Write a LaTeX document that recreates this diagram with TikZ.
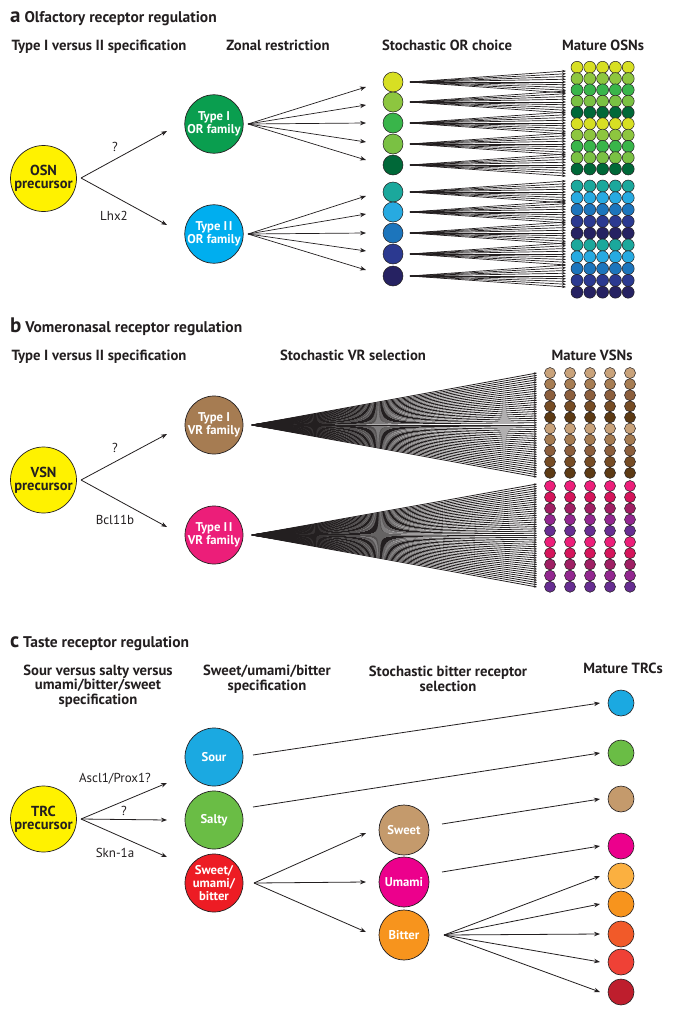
\documentclass[tikz,border=0pt]{standalone}
\usepackage{fontspec}
\setmainfont{PT Sans}
\usetikzlibrary{arrows.meta}
\definecolor{cyel}{HTML}{FFF200}
\definecolor{orI}{HTML}{0A9E4F}
\definecolor{orII}{HTML}{00AEEF}
\definecolor{g1}{HTML}{D7DF23}
\definecolor{g2}{HTML}{8DC63F}
\definecolor{g3}{HTML}{39B54A}
\definecolor{g4}{HTML}{7AC143}
\definecolor{g5}{HTML}{006838}
\definecolor{b1}{HTML}{1BA89C}
\definecolor{b2}{HTML}{27AAE1}
\definecolor{b3}{HTML}{1C75BC}
\definecolor{b4}{HTML}{2B3990}
\definecolor{b5}{HTML}{262262}
\definecolor{vrI}{HTML}{A67C52}
\definecolor{vrII}{HTML}{EC1E79}
\definecolor{br1}{HTML}{C8A27A}
\definecolor{br2}{HTML}{A67C52}
\definecolor{br3}{HTML}{8B5E3C}
\definecolor{br4}{HTML}{754C24}
\definecolor{br5}{HTML}{5C3A14}
\definecolor{pk1}{HTML}{EC1E79}
\definecolor{pk2}{HTML}{D4145A}
\definecolor{pk3}{HTML}{9E1F63}
\definecolor{pk4}{HTML}{92278F}
\definecolor{pk5}{HTML}{662D91}
\definecolor{tsour}{HTML}{1BA9E1}
\definecolor{tsalty}{HTML}{6ABD45}
\definecolor{tsub}{HTML}{ED1C24}
\definecolor{tsweet}{HTML}{C49A6C}
\definecolor{tumami}{HTML}{EC008C}
\definecolor{tbitter}{HTML}{F7941D}
\definecolor{m5}{HTML}{FBB040}
\definecolor{m7}{HTML}{F15A29}
\definecolor{m8}{HTML}{EF4136}
\definecolor{m9}{HTML}{BE1E2D}
\definecolor{ink}{HTML}{231F20}
\begin{document}
\begin{tikzpicture}[x=1pt,y=-1pt,
  every node/.style={text=ink},
  title/.style={anchor=base west,inner sep=0pt,font=\bfseries\fontsize{15.5}{18}\selectfont},
  head/.style={inner sep=0pt,font=\bfseries\fontsize{14.7}{14.5}\selectfont,align=center},
  lab/.style={inner sep=0pt,font=\fontsize{13}{14}\selectfont},
  prec/.style={circle,draw=ink,line width=0.7pt,fill=cyel,minimum size=66pt,inner sep=0pt,align=center,font=\bfseries\fontsize{14.5}{15}\selectfont},
  fam/.style={circle,draw=ink,line width=0.7pt,minimum size=58pt,inner sep=0pt,align=center,text=white,font=\bfseries\fontsize{12.7}{14}\selectfont},
  dot/.style={circle,draw=ink,line width=0.5pt,inner sep=0pt},
  arr/.style={draw=ink,line width=0.8pt,-{Stealth[length=6pt,width=4.5pt]}},
  farr/.style={draw=ink,line width=0.7pt,-{Stealth[length=4pt,width=2.8pt]}},
  varr/.style={draw=ink,line width=0.8pt,-{Stealth[length=3pt,width=2.3pt]}},
]
\useasboundingbox[fill=white] (0,0) rectangle (673,1015);

% ---------------- Panel a ----------------
\node[title] (ta) at (10,22) {{\fontsize{21}{21}\selectfont a} Olfactory receptor regulation};
\node[head,anchor=base] (ha1) at (99,50) {Type I versus II specification};
\node[head,anchor=base] (ha2) at (278,50) {Zonal restriction};
\node[head,anchor=base] (ha3) at (447,50) {Stochastic OR choice};
\node[head,anchor=base] (ha4) at (603,50) {Mature OSNs};

\node[prec] (osn) at (43.5,178.5) {OSN\\[-2pt]precursor};
\node[fam,fill=orI] (orI) at (214,124) {Type I\\[-1pt]OR family};
\node[fam,fill=orII] (orII) at (214,234) {Type I\kern1.5pt I\\[-1pt]OR family};
\coordinate (osnA) at (81,178);
\coordinate (orIin) at (167,131);
\coordinate (orIIin) at (167,225);
\draw[arr] (osnA) -- (orIin);
\draw[arr] (osnA) -- (orIIin);
\node[lab] (qa) at (115,147) {?};
\node[lab] (lhx) at (114,216) {Lhx2};

\coordinate (orIA) at (248,124);
\coordinate (orIIA) at (248,234);
\foreach \y [count=\i] in {87,105,123,142,160}{
  \coordinate (zI\i) at (366,\y);
  \draw[arr,line width=0.7pt] (orIA) -- (zI\i);
}
\foreach \y [count=\i] in {196,214,233,251,270}{
  \coordinate (zII\i) at (366,\y);
  \draw[arr,line width=0.7pt] (orIIA) -- (zII\i);
}

\foreach \y/\c [count=\i] in {82/g1,102/g2,123/g3,144/g4,165/g5,192/b1,212/b2,233/b3,254/b4,276/b5}{
  \node[dot,fill=\c,minimum size=20pt] (s\i) at (393,\y) {};
  \coordinate (sa\i) at (410,\y);
  \foreach \k in {0,...,8}{
    \coordinate (st\i-\k) at (566,{\y-11+2.75*\k});
    \draw[farr] (sa\i) -- (st\i-\k);
  }
}
\foreach \c [count=\j from 0] in {g1,g2,g3,g4,g5,g1,g2,g3,g4,g5}{
  \foreach \k in {0,...,4}{
    \node[dot,fill=\c,minimum size=12pt] (og\j-\k) at ({577+12.8*\k},{67.3+11.3*\j}) {};
  }
}
\foreach \c [count=\j from 0] in {b1,b2,b3,b4,b5,b1,b2,b3,b4,b5}{
  \foreach \k in {0,...,4}{
    \node[dot,fill=\c,minimum size=12pt] (ob\j-\k) at ({577+12.8*\k},{186+11.8*\j}) {};
  }
}

% ---------------- Panel b ----------------
\node[title] (tb) at (10,332) {{\fontsize{21}{21}\selectfont b} Vomeronasal receptor regulation};
\node[head,anchor=base] (hb1) at (99,360) {Type I versus II specification};
\node[head,anchor=base] (hb2) at (353,360) {Stochastic VR selection};
\node[head,anchor=base] (hb3) at (592,360) {Mature VSNs};

\node[prec] (vsn) at (43.5,480) {VSN\\[-2pt]precursor};
\node[fam,fill=vrI] (vrI) at (214,425) {Type I\\[-1pt]VR family};
\node[fam,fill=vrII] (vrII) at (214,535) {Type I\kern1.5pt I\\[-1pt]VR family};
\coordinate (vsnA) at (81,480);
\coordinate (vrIin) at (167,434);
\coordinate (vrIIin) at (167,527);
\draw[arr] (vsnA) -- (vrIin);
\draw[arr] (vsnA) -- (vrIIin);
\node[lab] (qb) at (115,448) {?};
\node[lab] (bcl) at (115,520) {Bcl11b};

\coordinate (vaI) at (252,425);
\coordinate (vaII) at (252,535);
\foreach \k in {0,...,46}{
  \coordinate (vtI-\k) at (537,{373+104*\k/46});
  \draw[varr] (vaI) -- (vtI-\k);
  \coordinate (vtII-\k) at (537,{484+103*\k/46});
  \draw[varr] (vaII) -- (vtII-\k);
}
\foreach \c [count=\j from 0] in {br1,br2,br3,br4,br5,br1,br2,br3,br4,br5}{
  \foreach \k in {0,...,4}{
    \node[dot,fill=\c,minimum size=11pt] (vb\j-\k) at ({550+20*\k},{373+11.1*\j}) {};
  }
}
\foreach \c [count=\j from 0] in {pk1,pk2,pk3,pk4,pk5,pk1,pk2,pk3,pk4,pk5}{
  \foreach \k in {0,...,4}{
    \node[dot,fill=\c,minimum size=11pt] (vp\j-\k) at ({550+20*\k},{486+11.2*\j}) {};
  }
}

% ---------------- Panel c ----------------
\node[title] (tc) at (10,647) {{\fontsize{21}{21}\selectfont c} Taste receptor regulation};
\node[head] (hc1) at (98,686) {Sour versus salty versus\\umami/bitter/sweet\\specification};
\node[head] (hc2) at (267,679) {Sweet/umami/bitter\\specification};
\node[head] (hc3) at (448,679) {Stochastic bitter receptor\\selection};
\node[head,anchor=base] (hc4) at (623,673) {Mature TRCs};

\node[prec] (trc) at (43.5,819) {TRC\\[-2pt]precursor};
\node[fam,fill=tsour] (sour) at (214,757) {Sour};
\node[fam,fill=tsalty] (salty) at (214,820) {Salty};
\node[fam,fill=tsub] (sub) at (214,883) {Sweet/\\[-1pt]umami/\\[-1pt]bitter};
\coordinate (trcA) at (81,819);
\coordinate (sourin) at (167,783);
\coordinate (saltyin) at (167,820);
\coordinate (subin) at (167,857);
\draw[arr] (trcA) -- (sourin);
\draw[arr] (trcA) -- (saltyin);
\draw[arr] (trcA) -- (subin);
\node[lab] (asc) at (115,779) {Ascl1/Prox1?};
\node[lab] (qc) at (124,811) {?};
\node[lab] (skn) at (115,853) {Skn-1a};

\node[fam,fill=tsweet,minimum size=50pt] (sweet) at (404,830) {Sweet};
\node[fam,fill=tumami,minimum size=50pt] (umami) at (404,882) {Umami};
\node[fam,fill=tbitter,minimum size=50pt] (bitter) at (404,935) {Bitter};

\foreach \y/\c [count=\i] in {703/tsour,753/tsalty,799/tsweet,846/tumami,876/m5,904/tbitter,934/m7,962/m8,992/m9}{
  \node[dot,fill=\c,minimum size=26pt,line width=0.6pt] (m\i) at (621,\y) {};
  \coordinate (mi\i) at (600,\y);
}
\coordinate (sourA) at (253,755);
\coordinate (saltyA) at (253,807);
\coordinate (subA) at (254,883);
\coordinate (sweetin) at (366,833);
\coordinate (umamiin) at (366,882);
\coordinate (bitterin) at (366,932);
\draw[arr] (sourA) -- (mi1);
\draw[arr] (saltyA) -- (mi2);
\draw[arr] (subA) -- (sweetin);
\draw[arr] (subA) -- (umamiin);
\draw[arr] (subA) -- (bitterin);
\coordinate (sweetA) at (442,824);
\coordinate (umamiA) at (442,872);
\coordinate (bitterA) at (444,935);
\draw[arr] (sweetA) -- (mi3);
\draw[arr] (umamiA) -- (mi4);
\foreach \i in {5,...,9}{
  \draw[arr] (bitterA) -- (mi\i);
}
\end{tikzpicture}
\end{document}
